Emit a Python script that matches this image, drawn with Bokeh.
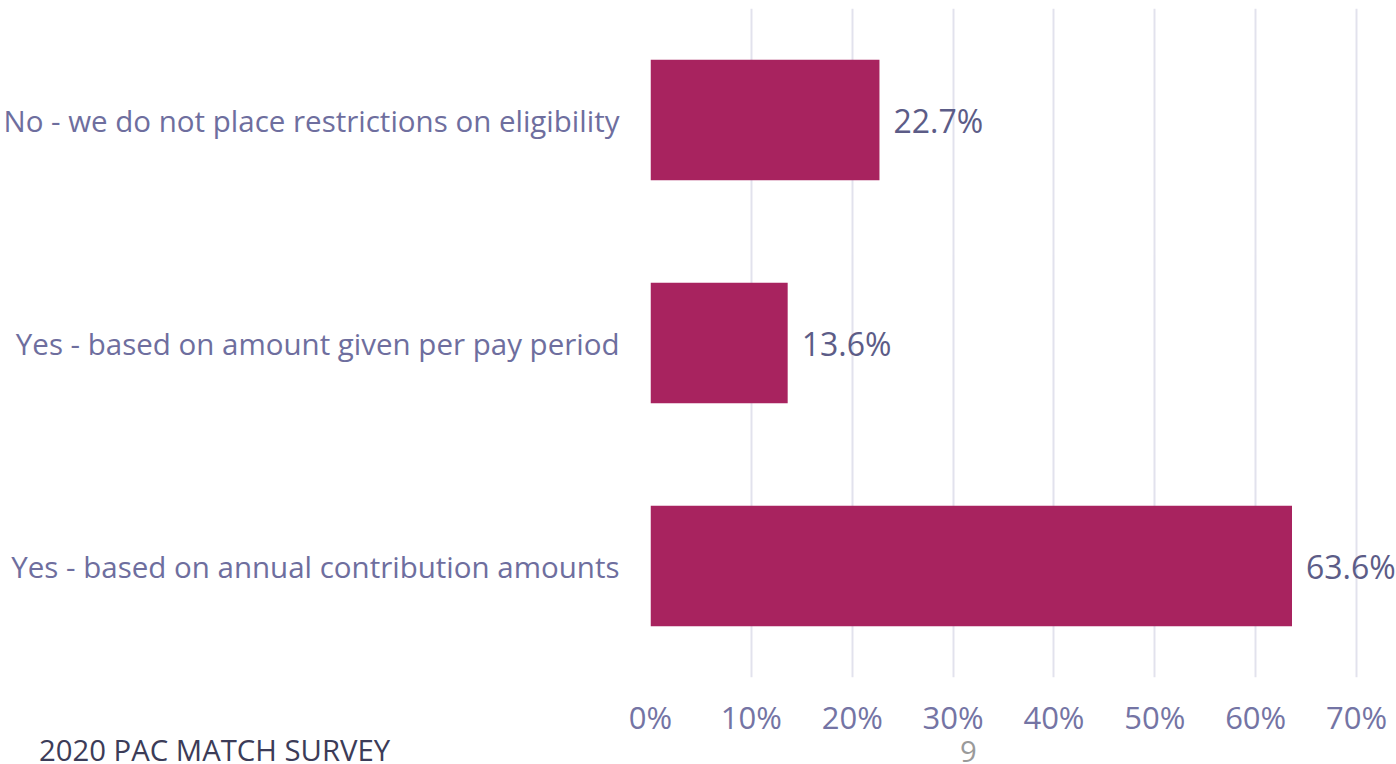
from bokeh.plotting import figure
from bokeh.layouts import column
from bokeh.models import ColumnDataSource, FixedTicker, CustomJSTickFormatter, Div
from bokeh.core.properties import value
from bokeh.embed import file_html
from bokeh.resources import INLINE

categories = [
    "Yes - based on annual contribution amounts",
    "Yes - based on amount given per pay period",
    "No - we do not place restrictions on eligibility",
]
percents = [63.6, 13.6, 22.7]
labels = ["63.6%", "13.6%", "22.7%"]
tick_values = [0, 10, 20, 30, 40, 50, 60, 70]
footer_text = "2020 PAC MATCH SURVEY"
page_number = "9"

FONT = "Open Sans"
src = ColumnDataSource(dict(cat=categories, pct=percents, lab=labels))

p = figure(width=1396, height=740, y_range=categories, x_range=(0, 73.96),
           output_backend="svg", toolbar_location=None,
           min_border_left=650, min_border_right=0, min_border_top=8, min_border_bottom=58)
p.outline_line_color = None
p.background_fill_color = "white"
p.border_fill_color = "white"

p.hbar(y="cat", right="pct", left=0, height=0.54, source=src,
       fill_color="#a8235f", line_color=None)

p.text(x="pct", y="cat", text="lab", source=src, x_offset=14,
       text_align="left", text_baseline="middle",
       text_font=value(FONT), text_font_size="32px", text_color="#5c5c87")

p.xaxis.ticker = FixedTicker(ticks=tick_values)
p.xaxis.formatter = CustomJSTickFormatter(code="return tick + '%';")
p.xaxis.axis_line_color = None
p.xaxis.major_tick_line_color = None
p.xaxis.minor_tick_line_color = None
p.xaxis.major_label_text_font = FONT
p.xaxis.major_label_text_font_size = "31px"
p.xaxis.major_label_text_color = "#7474a4"
p.xaxis.major_label_standoff = 12

p.yaxis.axis_line_color = None
p.yaxis.major_tick_line_color = None
p.yaxis.minor_tick_line_color = None
p.yaxis.major_label_text_font = FONT
p.yaxis.major_label_text_font_size = "29.5px"
p.yaxis.major_label_text_color = "#6e6e9e"
p.yaxis.major_label_standoff = 25

p.ygrid.grid_line_color = None
p.xgrid.grid_line_color = "#e2e2ed"
p.xgrid.grid_line_width = 2

footer_html = (
    '<div style="position:relative;width:1396px;height:24px;'
    "font-family:'Open Sans';font-size:29.3px;line-height:20px;white-space:nowrap;\">"
    '<span style="position:absolute;left:39px;top:0px;color:#3c3c58;">%s</span>'
    '<span style="position:absolute;left:960px;top:1px;color:#9a9a9a;">%s</span>'
    '</div>' % (footer_text, page_number)
)
footer = Div(text=footer_html, width=1396, height=24, margin=0)

layout = column(p, footer, spacing=0)
open("out.html", "w").write(file_html(layout, INLINE))
